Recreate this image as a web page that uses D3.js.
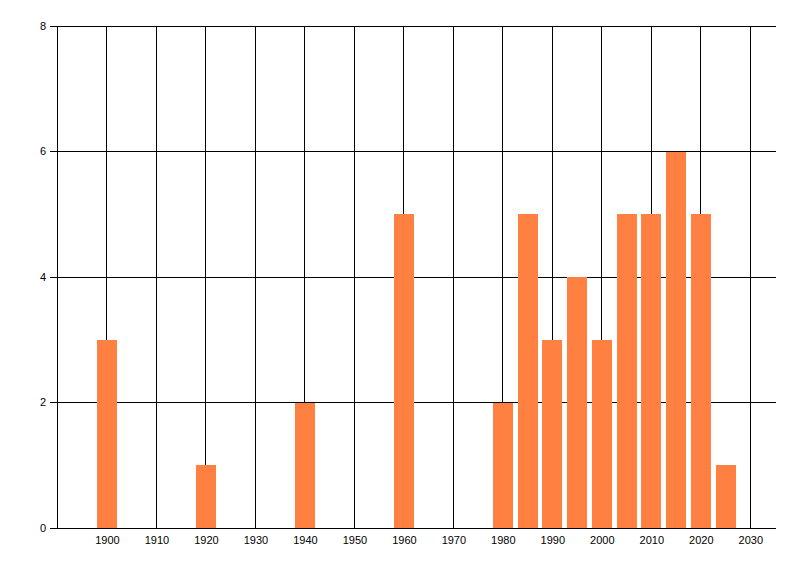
<!DOCTYPE html>
<html>
<head>
<meta charset="utf-8">
<script src="https://cdn.jsdelivr.net/npm/d3@7"></script>
<style>
    html, body { margin: 0; padding: 0; background: #fff; }
    svg { display: block; }
    .tick text { font-family: "Liberation Sans", Arial, sans-serif; font-size: 11px; fill: #000; }
</style>
</head>
<body>
<div id="chart"></div>
<script>
const years = [1900, 1920, 1940, 1960, 1980, 1985, 1990, 1995, 2000, 2005, 2010, 2015, 2020, 2025];
const counts = [3, 1, 2, 5, 2, 5, 3, 4, 3, 5, 5, 6, 5, 1];
const xTicks = [1900, 1910, 1920, 1930, 1940, 1950, 1960, 1970, 1980, 1990, 2000, 2010, 2020, 2030];
const yTicks = [0, 2, 4, 6, 8];

const width = 800;
const height = 576;
const margin = { top: 26, right: 25, bottom: 48, left: 57.5 };
const barYears = 4;

const svg = d3.select('#chart').append('svg')
    .attr('width', width)
    .attr('height', height);

const scaleX = d3.scaleLinear()
    .domain([1890, 2035])
    .range([margin.left, width - margin.right]);
const scaleY = d3.scaleLinear()
    .domain([0, 8])
    .range([height - margin.bottom, margin.top]);

const px = v => Math.floor(v) + 0.5;

// grid
const grid = svg.append('g').attr('shape-rendering', 'crispEdges');
grid.selectAll('line.v')
    .data(xTicks)
    .join('line')
    .attr('class', 'v')
    .attr('x1', d => px(scaleX(d)))
    .attr('x2', d => px(scaleX(d)))
    .attr('y1', px(scaleY(8)))
    .attr('y2', px(scaleY(0)))
    .attr('stroke', '#000');
grid.selectAll('line.h')
    .data(yTicks.filter(d => d > 0))
    .join('line')
    .attr('class', 'h')
    .attr('x1', px(scaleX(1890)))
    .attr('x2', px(scaleX(2035)))
    .attr('y1', d => px(scaleY(d)))
    .attr('y2', d => px(scaleY(d)))
    .attr('stroke', '#000');

// bars
const bw = scaleX(1890 + barYears) - scaleX(1890);
svg.append('g')
    .attr('shape-rendering', 'crispEdges')
    .selectAll('rect')
    .data(years.map((y, i) => ({ year: y, count: counts[i] })))
    .join('rect')
    .attr('x', d => Math.round(scaleX(d.year) - bw / 2))
    .attr('width', Math.round(bw))
    .attr('y', d => Math.round(scaleY(d.count)))
    .attr('height', d => Math.floor(scaleY(0)) - Math.round(scaleY(d.count)))
    .attr('fill', '#ff8041');

// axes
const axisX = d3.axisBottom(scaleX)
    .tickValues(xTicks)
    .tickFormat(d3.format('d'))
    .tickSize(0)
    .tickPadding(8);
const axisY = d3.axisLeft(scaleY)
    .tickValues(yTicks)
    .tickSize(8)
    .tickPadding(3);

const axisXGroup = svg.append('g')
    .attr('transform', `translate(0, ${Math.floor(scaleY(0))})`)
    .call(axisX);
const axisYGroup = svg.append('g')
    .attr('transform', `translate(${Math.floor(scaleX(1890))}, 0)`)
    .call(axisY);

[axisXGroup, axisYGroup].forEach(g => {
    g.attr('shape-rendering', 'crispEdges');
    g.selectAll('path, line').attr('stroke', '#000');
    g.select('.domain').attr('d', g === axisXGroup
        ? `M${px(scaleX(1890))},0.5H${px(scaleX(2035))}`
        : `M0.5,${px(scaleY(8))}V${px(scaleY(0))}`);
});
axisYGroup.selectAll('.tick line')
    .attr('x1', 0.5).attr('x2', -7.5)
    .attr('transform', function () {
        return null;
    });
axisYGroup.selectAll('.tick')
    .attr('transform', d => `translate(0, ${px(scaleY(d))})`);
</script>
</body>
</html>
